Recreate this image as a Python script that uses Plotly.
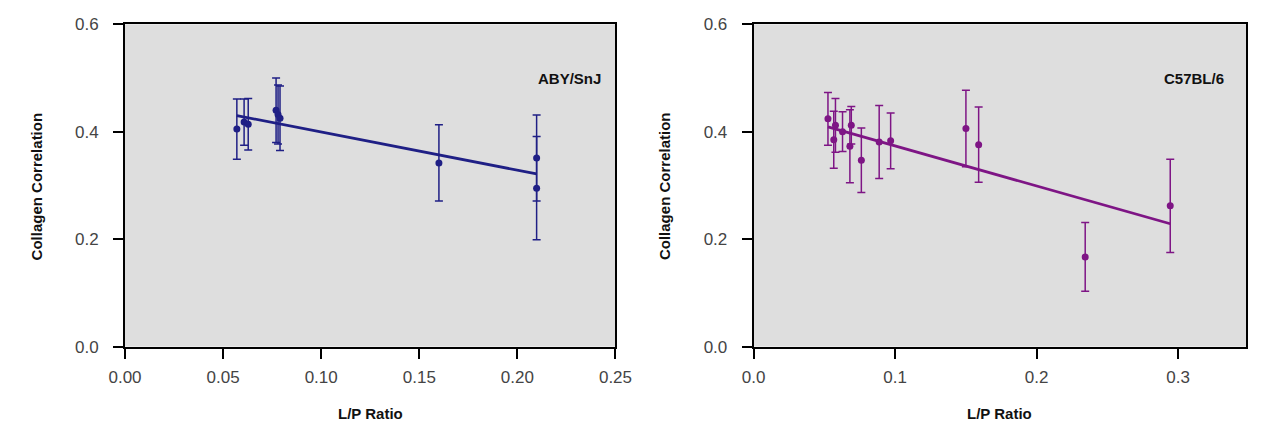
import plotly.graph_objects as go

# ---------------- Data ----------------
# ABY/SnJ
aby_x = [0.057, 0.0607, 0.0628, 0.077, 0.078, 0.079, 0.160, 0.2098, 0.2098]
aby_y = [0.405, 0.418, 0.414, 0.440, 0.432, 0.425, 0.342, 0.351, 0.295]
aby_err = [0.056, 0.043, 0.048, 0.060, 0.055, 0.060, 0.071, 0.080, 0.096]
aby_fit_slope = -0.71
aby_fit_intercept = 0.4705

# C57BL/6
c57_x = [0.0525, 0.0578, 0.0566, 0.0628, 0.069, 0.068, 0.0761, 0.0887, 0.0968,
         0.150, 0.159, 0.2343, 0.2944]
c57_y = [0.424, 0.412, 0.385, 0.400, 0.412, 0.373, 0.347, 0.381, 0.383,
         0.406, 0.376, 0.167, 0.262]
c57_err = [0.049, 0.050, 0.053, 0.037, 0.035, 0.068, 0.060, 0.068, 0.052,
           0.071, 0.070, 0.064, 0.087]
c57_fit_slope = -0.745
c57_fit_intercept = 0.448

x1_ticks = [0.00, 0.05, 0.10, 0.15, 0.20, 0.25]
x1_labels = ["0.00", "0.05", "0.10", "0.15", "0.20", "0.25"]
x2_ticks = [0.0, 0.1, 0.2, 0.3]
x2_labels = ["0.0", "0.1", "0.2", "0.3"]
y_ticks = [0.0, 0.2, 0.4, 0.6]
y_labels = ["0.0", "0.2", "0.4", "0.6"]

BLUE = "#1f1f85"
PURPLE = "#7e1585"

fig = go.Figure()

def add_series(xs, ys, errs, slope, intercept, color, xa, ya):
    fx = [min(xs), max(xs)]
    fy = [intercept + slope * v for v in fx]
    fig.add_trace(go.Scatter(x=fx, y=fy, mode="lines",
                             line=dict(color=color, width=2.8),
                             xaxis=xa, yaxis=ya, showlegend=False, hoverinfo="skip"))
    fig.add_trace(go.Scatter(x=xs, y=ys, mode="markers",
                             marker=dict(color=color, size=7),
                             error_y=dict(type="data", array=errs, visible=True,
                                          color=color, thickness=1.5, width=4),
                             xaxis=xa, yaxis=ya, showlegend=False))

add_series(aby_x, aby_y, aby_err, aby_fit_slope, aby_fit_intercept, BLUE, "x", "y")
add_series(c57_x, c57_y, c57_err, c57_fit_slope, c57_fit_intercept, PURPLE, "x2", "y2")

W, H = 1266, 436
tickfont = dict(family="Liberation Sans, Arial, sans-serif", size=17, color="#444444")
axis_common = dict(showline=True, linecolor="black", linewidth=2, mirror=True,
                   ticks="outside", ticklen=10, tickwidth=2, tickcolor="black",
                   showgrid=False, zeroline=False, tickfont=tickfont)

y_dom = [83 / H, 420 / H]
fig.update_layout(
    width=W, height=H,
    margin=dict(l=0, r=0, t=0, b=0),
    paper_bgcolor="white",
    plot_bgcolor="#dedede",
    xaxis=dict(domain=[111 / W, 615 / W], range=[0, 0.25], tickvals=x1_ticks,
               ticktext=x1_labels, anchor="y", ticklabelstandoff=4, **axis_common),
    yaxis=dict(domain=y_dom, range=[0, 0.6], tickvals=y_ticks, ticktext=y_labels,
               anchor="x", ticklabelstandoff=11, **axis_common),
    xaxis2=dict(domain=[757 / W, 1263 / W], range=[0, 0.348], tickvals=x2_ticks,
                ticktext=x2_labels, anchor="y2", ticklabelstandoff=4, **axis_common),
    yaxis2=dict(domain=y_dom, range=[0, 0.6], tickvals=y_ticks, ticktext=y_labels,
                anchor="x2", ticklabelstandoff=11, **axis_common),
)

bold = dict(family="Liberation Sans, Arial, sans-serif", size=15, color="#111111")
ann = [
    dict(text="<b>ABY/SnJ</b>", x=602 / W, y=1 - 73 / H, xanchor="right", yanchor="middle"),
    dict(text="<b>C57BL/6</b>", x=1242 / W, y=1 - 73 / H, xanchor="right", yanchor="middle"),
    dict(text="<b>L/P Ratio</b>", x=363 / W, y=1 - 423 / H, xanchor="center", yanchor="middle"),
    dict(text="<b>L/P Ratio</b>", x=1010 / W, y=1 - 423 / H, xanchor="center", yanchor="middle"),
    dict(text="<b>Collagen Correlation</b>", x=20 / W, y=1 - 185 / H, xanchor="center",
         yanchor="middle", textangle=-90),
    dict(text="<b>Collagen Correlation</b>", x=666 / W, y=1 - 185 / H, xanchor="center",
         yanchor="middle", textangle=-90),
]
for a in ann:
    a.update(xref="paper", yref="paper", showarrow=False, font=bold)
    fig.add_annotation(**a)

fig.write_html("out.html",
               config={"displayModeBar": False},
               post_script="document.body.style.margin='0';document.body.style.overflow='hidden';")
